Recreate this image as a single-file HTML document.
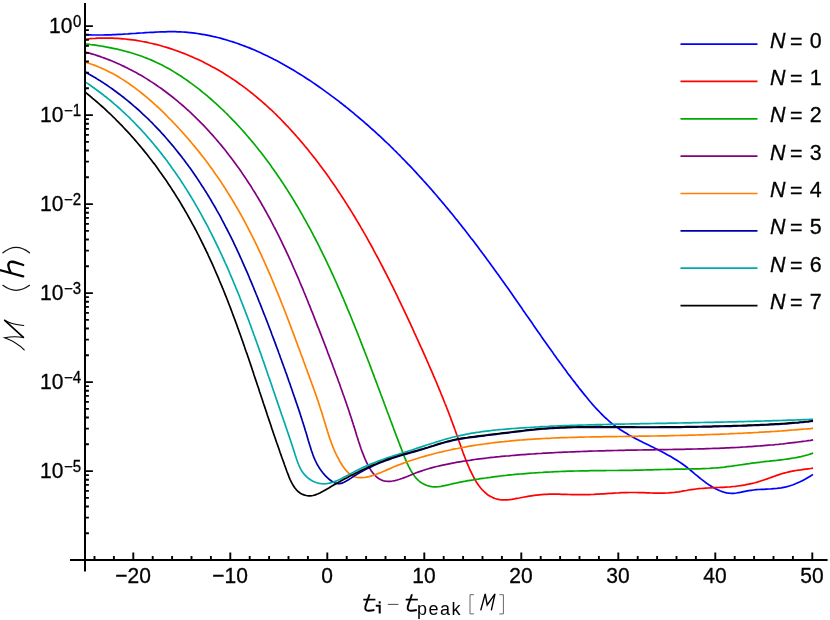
<!DOCTYPE html><html><head><meta charset="utf-8"><style>
html,body{margin:0;padding:0;background:#fff}body{width:830px;height:620px;position:relative;overflow:hidden;font-family:"Liberation Sans",sans-serif;color:#000}
.t{position:absolute;font-size:21px;line-height:24px;height:24px;white-space:nowrap;will-change:transform;-webkit-text-stroke:0.3px #000;transform:scaleY(1.060);transform-origin:50% 50%}
.xl{width:80px;text-align:center;top:564.4px}
.yl{left:39.5px}
.ys{font-size:15px;}
.lg{left:769.6px;font-size:21.4px}
i{font-style:italic}.eq{position:relative;top:1.4px;margin-left:-1.3px;margin-right:1.3px}
</style></head><body>
<svg width="830" height="620" viewBox="0 0 830 620" style="position:absolute;left:0;top:0">
<g fill="none" stroke-width="1.7" stroke-linecap="butt" stroke-linejoin="round">
<path d="M84.6,34.7L85.2,34.7L87.8,34.8L90.3,34.9L92.8,35.0L95.3,35.0L97.9,35.0L100.4,35.0L102.9,35.0L105.5,34.9L108.0,34.9L110.5,34.8L113.0,34.7L115.5,34.6L118.1,34.4L120.6,34.3L123.1,34.2L125.6,34.0L128.1,33.9L130.6,33.7L133.1,33.5L135.6,33.4L138.1,33.2L140.6,33.0L143.1,32.9L145.6,32.7L148.1,32.5L150.6,32.4L153.1,32.3L155.5,32.1L158.0,32.0L160.5,31.9L163.0,31.8L165.4,31.8L167.9,31.7L170.4,31.7L172.8,31.7L175.3,31.7L177.7,31.8L180.2,31.9L182.6,32.0L185.1,32.2L187.5,32.4L189.9,32.6L192.4,32.9L194.8,33.2L197.2,33.5L199.6,33.9L202.0,34.3L204.5,34.7L206.9,35.1L209.3,35.6L211.6,36.1L214.0,36.7L216.4,37.2L218.8,37.8L221.2,38.4L223.5,39.1L225.9,39.8L228.3,40.5L230.6,41.2L233.0,41.9L235.3,42.7L237.7,43.5L240.0,44.4L242.3,45.2L244.6,46.1L246.9,47.0L249.3,47.9L251.6,48.9L253.9,49.8L256.1,50.8L258.4,51.8L260.7,52.8L263.0,53.9L265.2,55.0L267.5,56.1L269.8,57.2L272.0,58.3L274.2,59.5L276.5,60.6L278.7,61.8L280.9,63.0L283.1,64.2L285.3,65.5L287.5,66.7L289.7,68.0L291.9,69.3L294.1,70.6L296.2,71.9L298.4,73.2L300.5,74.5L302.7,75.9L304.8,77.3L307.0,78.7L309.1,80.0L311.2,81.4L313.3,82.9L315.4,84.3L317.5,85.7L319.6,87.2L321.6,88.6L323.7,90.1L325.7,91.6L327.8,93.1L329.8,94.6L331.8,96.1L333.9,97.6L335.9,99.1L337.9,100.6L339.9,102.2L341.9,103.7L343.8,105.3L345.8,106.8L347.8,108.4L349.7,110.0L351.7,111.6L353.6,113.2L355.5,114.8L357.4,116.4L359.3,118.0L361.2,119.6L363.1,121.2L365.0,122.9L366.9,124.5L368.8,126.1L370.6,127.8L372.5,129.5L374.4,131.1L376.2,132.8L378.0,134.5L379.9,136.2L381.7,137.9L383.5,139.6L385.3,141.3L387.1,143.0L388.9,144.7L390.7,146.5L392.4,148.2L394.2,150.0L396.0,151.7L397.7,153.5L399.5,155.2L401.2,157.0L403.0,158.8L404.7,160.5L406.4,162.3L408.1,164.1L409.9,165.9L411.6,167.7L413.3,169.5L415.0,171.3L416.6,173.1L418.3,175.0L420.0,176.8L421.7,178.6L423.3,180.5L425.0,182.3L426.6,184.1L428.3,186.0L429.9,187.9L431.6,189.7L433.2,191.6L434.8,193.5L436.4,195.3L438.0,197.2L439.6,199.1L441.2,201.0L442.8,202.9L444.4,204.8L446.0,206.7L447.6,208.6L449.2,210.5L450.7,212.4L452.3,214.3L453.9,216.3L455.4,218.2L457.0,220.1L458.5,222.1L460.1,224.0L461.6,225.9L463.1,227.9L464.7,229.8L466.2,231.8L467.7,233.7L469.2,235.7L470.7,237.7L472.3,239.6L473.8,241.6L475.3,243.6L476.8,245.5L478.3,247.5L479.7,249.5L481.2,251.5L482.7,253.5L484.2,255.4L485.7,257.4L487.1,259.4L488.6,261.4L490.1,263.4L491.5,265.4L493.0,267.4L494.4,269.4L495.9,271.4L497.3,273.4L498.8,275.5L500.2,277.5L501.6,279.5L503.1,281.5L504.5,283.5L505.9,285.5L507.4,287.6L508.8,289.6L510.2,291.6L511.6,293.6L513.1,295.7L514.5,297.7L515.9,299.7L517.3,301.8L518.7,303.8L520.1,305.8L521.5,307.8L522.9,309.9L524.3,311.9L525.7,314.0L527.1,316.0L528.6,318.0L530.0,320.1L531.4,322.1L532.8,324.1L534.2,326.2L535.6,328.2L537.0,330.2L538.4,332.3L539.9,334.3L541.3,336.4L542.7,338.4L544.1,340.4L545.6,342.5L547.0,344.5L548.4,346.5L549.9,348.6L551.3,350.6L552.8,352.6L554.2,354.7L555.7,356.7L557.1,358.7L558.6,360.7L560.1,362.8L561.6,364.8L563.0,366.8L564.5,368.8L566.0,370.8L567.5,372.9L569.0,374.9L570.6,376.9L572.1,378.9L573.6,380.9L575.2,382.9L576.7,384.9L578.3,386.9L579.8,388.9L581.4,390.9L583.0,392.9L584.6,394.9L586.2,396.8L587.8,398.8L589.4,400.8L591.1,402.7L592.7,404.6L594.4,406.5L596.1,408.4L597.8,410.2L599.6,412.0L601.4,413.8L603.1,415.6L604.9,417.3L606.8,419.0L608.6,420.7L610.5,422.3L612.4,423.9L614.4,425.4L616.4,426.9L618.4,428.3L620.4,429.7L622.5,431.0L624.5,432.3L626.7,433.6L628.8,434.9L630.9,436.1L633.1,437.3L635.3,438.4L637.5,439.6L639.7,440.7L641.9,441.8L644.1,442.9L646.4,444.0L648.6,445.1L650.8,446.2L653.1,447.3L655.3,448.4L657.6,449.5L659.8,450.7L662.0,451.8L664.2,453.0L666.4,454.2L668.6,455.4L670.8,456.6L673.0,457.9L675.1,459.2L677.2,460.5L679.3,461.9L681.4,463.3L683.5,464.8L685.5,466.3L687.5,467.8L689.5,469.4L691.4,471.0L693.4,472.7L695.3,474.3L697.3,475.9L699.2,477.5L701.2,479.1L703.2,480.6L705.2,482.2L707.2,483.6L709.2,485.0L711.3,486.3L713.4,487.6L715.5,488.8L717.7,489.8L719.9,490.8L722.2,491.6L724.4,492.3L726.8,492.8L729.1,493.2L731.5,493.3L733.9,493.3L736.3,493.0L738.8,492.6L741.2,492.2L743.7,491.6L746.2,491.1L748.7,490.7L751.2,490.3L753.7,490.0L756.3,489.7L758.8,489.5L761.3,489.4L763.8,489.3L766.3,489.1L768.8,489.0L771.3,488.9L773.8,488.7L776.3,488.5L778.8,488.2L781.2,487.9L783.7,487.4L786.1,486.9L788.5,486.2L790.8,485.5L793.2,484.7L795.5,483.8L797.8,482.8L800.1,481.8L802.3,480.7L804.6,479.5L806.7,478.3L808.9,477.0L811.0,475.7L813.0,474.4" stroke="#0000ff"/>
<path d="M84.6,39.3L85.3,39.2L87.8,39.0L90.3,38.7L92.8,38.5L95.3,38.4L97.8,38.2L100.3,38.2L102.8,38.1L105.3,38.1L107.8,38.1L110.3,38.1L112.7,38.2L115.2,38.3L117.7,38.4L120.2,38.6L122.7,38.8L125.2,39.0L127.6,39.3L130.1,39.6L132.6,39.9L135.0,40.2L137.5,40.6L139.9,41.0L142.4,41.5L144.8,41.9L147.3,42.4L149.7,43.0L152.1,43.5L154.5,44.1L157.0,44.7L159.4,45.3L161.8,46.0L164.2,46.7L166.6,47.4L168.9,48.1L171.3,48.9L173.7,49.7L176.0,50.5L178.4,51.4L180.7,52.2L183.1,53.1L185.4,54.0L187.7,55.0L190.0,56.0L192.3,56.9L194.6,58.0L196.9,59.0L199.2,60.1L201.4,61.1L203.7,62.2L205.9,63.4L208.1,64.5L210.3,65.7L212.5,66.9L214.7,68.1L216.9,69.3L219.1,70.6L221.2,71.8L223.4,73.1L225.5,74.5L227.6,75.8L229.7,77.1L231.8,78.5L233.9,79.9L236.0,81.3L238.0,82.7L240.0,84.2L242.1,85.6L244.1,87.1L246.1,88.6L248.0,90.1L250.0,91.7L252.0,93.2L253.9,94.8L255.8,96.4L257.7,98.0L259.6,99.6L261.5,101.2L263.4,102.8L265.3,104.5L267.1,106.2L268.9,107.8L270.8,109.5L272.6,111.2L274.4,113.0L276.2,114.7L277.9,116.5L279.7,118.2L281.5,120.0L283.2,121.8L284.9,123.6L286.6,125.4L288.4,127.2L290.0,129.0L291.7,130.9L293.4,132.7L295.1,134.6L296.7,136.5L298.4,138.3L300.0,140.2L301.6,142.1L303.2,144.0L304.8,146.0L306.4,147.9L308.0,149.8L309.5,151.8L311.1,153.7L312.7,155.7L314.2,157.6L315.7,159.6L317.2,161.6L318.7,163.6L320.2,165.6L321.7,167.5L323.2,169.6L324.7,171.6L326.2,173.6L327.6,175.6L329.1,177.6L330.5,179.7L331.9,181.7L333.3,183.8L334.8,185.8L336.2,187.9L337.5,190.0L338.9,192.0L340.3,194.1L341.7,196.2L343.0,198.3L344.4,200.4L345.7,202.5L347.1,204.6L348.4,206.7L349.7,208.8L351.0,210.9L352.4,213.1L353.7,215.2L355.0,217.3L356.2,219.5L357.5,221.6L358.8,223.8L360.1,225.9L361.3,228.1L362.6,230.2L363.8,232.4L365.1,234.6L366.3,236.7L367.5,238.9L368.7,241.1L369.9,243.3L371.2,245.5L372.4,247.7L373.5,249.9L374.7,252.1L375.9,254.3L377.1,256.5L378.3,258.7L379.4,260.9L380.6,263.1L381.8,265.3L382.9,267.5L384.1,269.8L385.2,272.0L386.3,274.2L387.5,276.5L388.6,278.7L389.7,280.9L390.8,283.2L392.0,285.4L393.1,287.6L394.2,289.9L395.3,292.1L396.4,294.4L397.5,296.6L398.5,298.9L399.6,301.1L400.7,303.4L401.8,305.6L402.9,307.9L403.9,310.1L405.0,312.4L406.1,314.7L407.1,316.9L408.2,319.2L409.2,321.4L410.3,323.7L411.3,326.0L412.4,328.2L413.4,330.5L414.4,332.8L415.5,335.0L416.5,337.3L417.6,339.6L418.6,341.8L419.6,344.1L420.6,346.4L421.7,348.6L422.7,350.9L423.7,353.2L424.7,355.4L425.7,357.7L426.7,360.0L427.7,362.2L428.7,364.5L429.7,366.8L430.7,369.1L431.7,371.3L432.7,373.6L433.6,375.9L434.6,378.2L435.6,380.5L436.6,382.8L437.5,385.1L438.5,387.4L439.4,389.7L440.4,392.0L441.3,394.3L442.3,396.6L443.2,398.9L444.1,401.2L445.0,403.5L446.0,405.8L446.9,408.2L447.8,410.5L448.7,412.8L449.6,415.2L450.5,417.5L451.3,419.9L452.2,422.2L453.1,424.6L454.0,426.9L454.8,429.3L455.7,431.7L456.5,434.0L457.4,436.4L458.2,438.8L459.0,441.2L459.9,443.6L460.7,446.0L461.5,448.4L462.4,450.7L463.2,453.1L464.1,455.4L465.0,457.8L465.9,460.1L466.8,462.4L467.8,464.7L468.8,467.0L469.8,469.3L470.8,471.5L471.9,473.7L473.0,475.9L474.1,478.0L475.3,480.2L476.5,482.3L477.9,484.3L479.3,486.3L480.9,488.3L482.6,490.2L484.5,492.0L486.4,493.7L488.4,495.2L490.6,496.5L492.8,497.6L495.0,498.5L497.3,499.2L499.7,499.6L502.1,499.9L504.6,499.9L507.0,499.8L509.5,499.6L511.9,499.3L514.4,498.9L516.9,498.4L519.3,498.0L521.8,497.5L524.3,497.0L526.7,496.6L529.2,496.2L531.7,495.8L534.2,495.4L536.7,495.1L539.1,494.8L541.6,494.6L544.1,494.4L546.6,494.3L549.1,494.2L551.6,494.2L554.0,494.2L556.5,494.2L559.0,494.2L561.5,494.3L564.0,494.3L566.5,494.4L569.0,494.5L571.5,494.6L574.0,494.6L576.5,494.7L579.0,494.7L581.5,494.7L584.0,494.7L586.5,494.6L589.0,494.6L591.5,494.5L594.0,494.4L596.5,494.2L599.0,494.1L601.5,493.9L604.0,493.8L606.5,493.6L609.0,493.4L611.5,493.3L614.0,493.1L616.5,493.0L619.0,492.9L621.5,492.7L624.0,492.6L626.5,492.6L629.0,492.5L631.5,492.5L634.0,492.5L636.5,492.5L639.0,492.6L641.5,492.6L644.0,492.7L646.5,492.8L648.9,492.9L651.4,493.0L653.9,493.1L656.4,493.1L658.9,493.1L661.4,493.1L663.9,493.1L666.4,493.0L668.9,492.9L671.3,492.7L673.8,492.5L676.3,492.1L678.8,491.8L681.3,491.4L683.7,490.9L686.2,490.5L688.7,490.0L691.1,489.6L693.6,489.3L696.1,489.0L698.5,488.7L701.0,488.5L703.5,488.3L705.9,488.1L708.4,488.0L710.9,487.8L713.3,487.7L715.8,487.6L718.2,487.5L720.7,487.4L723.1,487.3L725.6,487.1L728.0,487.0L730.5,486.8L732.9,486.5L735.4,486.3L737.8,486.0L740.3,485.7L742.7,485.3L745.1,484.9L747.6,484.4L750.0,483.9L752.5,483.4L754.9,482.8L757.3,482.1L759.8,481.3L762.2,480.5L764.6,479.7L767.1,478.9L769.5,478.0L771.9,477.1L774.3,476.2L776.8,475.4L779.2,474.6L781.6,473.8L784.0,473.1L786.4,472.5L788.9,471.9L791.3,471.4L793.7,470.9L796.1,470.5L798.5,470.1L800.9,469.8L803.4,469.4L805.8,469.1L808.2,468.8L810.6,468.5L813.0,468.1" stroke="#ff0000"/>
<path d="M84.6,43.7L85.2,43.8L87.8,44.1L90.4,44.5L93.0,44.8L95.6,45.2L98.1,45.6L100.7,46.0L103.2,46.4L105.7,46.9L108.2,47.3L110.7,47.8L113.2,48.3L115.7,48.8L118.1,49.4L120.6,50.0L123.0,50.6L125.4,51.2L127.8,51.9L130.1,52.5L132.5,53.2L134.9,54.0L137.2,54.7L139.5,55.5L141.8,56.3L144.1,57.2L146.4,58.1L148.7,59.0L150.9,59.9L153.2,60.9L155.4,61.9L157.6,62.9L159.8,64.0L162.0,65.1L164.2,66.3L166.4,67.4L168.5,68.6L170.7,69.8L172.8,71.1L174.9,72.4L177.0,73.7L179.1,75.0L181.2,76.3L183.2,77.7L185.3,79.1L187.3,80.5L189.3,82.0L191.3,83.4L193.3,84.9L195.3,86.4L197.3,87.9L199.3,89.4L201.2,91.0L203.1,92.6L205.1,94.1L207.0,95.7L208.9,97.3L210.8,99.0L212.6,100.6L214.5,102.3L216.3,103.9L218.2,105.6L220.0,107.3L221.8,109.0L223.6,110.7L225.4,112.5L227.2,114.2L228.9,116.0L230.7,117.8L232.4,119.6L234.2,121.4L235.9,123.2L237.6,125.0L239.3,126.8L241.0,128.7L242.6,130.5L244.3,132.4L245.9,134.3L247.6,136.2L249.2,138.1L250.8,140.0L252.4,141.9L254.0,143.8L255.6,145.8L257.2,147.7L258.7,149.7L260.3,151.6L261.8,153.6L263.3,155.6L264.8,157.6L266.3,159.6L267.8,161.6L269.3,163.6L270.8,165.6L272.2,167.7L273.7,169.7L275.1,171.8L276.5,173.8L278.0,175.9L279.4,177.9L280.8,180.0L282.1,182.1L283.5,184.1L284.9,186.2L286.2,188.3L287.6,190.4L288.9,192.5L290.2,194.6L291.6,196.8L292.9,198.9L294.2,201.0L295.4,203.2L296.7,205.3L298.0,207.4L299.3,209.6L300.5,211.8L301.7,213.9L303.0,216.1L304.2,218.3L305.4,220.4L306.6,222.6L307.8,224.8L309.0,227.0L310.2,229.2L311.4,231.4L312.6,233.6L313.7,235.8L314.9,238.0L316.0,240.2L317.1,242.4L318.3,244.7L319.4,246.9L320.5,249.1L321.6,251.4L322.7,253.6L323.8,255.9L324.9,258.1L326.0,260.3L327.1,262.6L328.1,264.9L329.2,267.1L330.3,269.4L331.3,271.7L332.3,273.9L333.4,276.2L334.4,278.5L335.4,280.7L336.5,283.0L337.5,285.3L338.5,287.6L339.5,289.9L340.5,292.2L341.5,294.5L342.5,296.8L343.5,299.0L344.4,301.3L345.4,303.6L346.4,305.9L347.3,308.3L348.3,310.6L349.3,312.9L350.2,315.2L351.2,317.5L352.1,319.8L353.0,322.1L354.0,324.4L354.9,326.7L355.8,329.0L356.8,331.4L357.7,333.7L358.6,336.0L359.5,338.3L360.4,340.6L361.3,342.9L362.2,345.3L363.1,347.6L364.0,349.9L364.9,352.2L365.8,354.5L366.7,356.8L367.6,359.2L368.5,361.5L369.4,363.8L370.3,366.1L371.1,368.4L372.0,370.8L372.9,373.1L373.8,375.4L374.6,377.7L375.5,380.1L376.4,382.4L377.3,384.7L378.1,387.0L379.0,389.4L379.9,391.7L380.7,394.0L381.6,396.3L382.5,398.7L383.4,401.0L384.2,403.3L385.1,405.7L386.0,408.0L386.8,410.3L387.7,412.7L388.6,415.0L389.5,417.4L390.3,419.7L391.2,422.0L392.1,424.4L393.0,426.7L393.8,429.1L394.7,431.4L395.6,433.8L396.5,436.1L397.4,438.5L398.3,440.9L399.2,443.2L400.1,445.6L401.0,447.9L401.9,450.3L402.8,452.7L403.7,455.0L404.6,457.4L405.6,459.7L406.6,462.1L407.7,464.4L408.8,466.7L410.0,469.0L411.2,471.2L412.6,473.3L414.0,475.4L415.5,477.4L417.1,479.2L418.9,480.8L420.7,482.3L422.7,483.6L424.8,484.6L427.0,485.5L429.2,486.1L431.5,486.6L433.9,486.8L436.2,486.8L438.6,486.7L441.0,486.4L443.4,485.9L445.8,485.4L448.2,484.9L450.6,484.3L453.1,483.7L455.6,483.2L458.0,482.6L460.5,482.1L463.0,481.6L465.5,481.2L468.0,480.7L470.5,480.3L473.0,479.9L475.5,479.4L478.0,479.1L480.5,478.7L483.0,478.3L485.5,478.0L488.0,477.6L490.5,477.3L493.0,476.9L495.5,476.6L498.0,476.3L500.5,476.0L503.0,475.7L505.5,475.5L508.0,475.2L510.5,474.9L513.0,474.7L515.5,474.4L518.0,474.2L520.5,474.0L523.0,473.8L525.4,473.6L527.9,473.4L530.4,473.2L532.9,473.0L535.4,472.8L537.9,472.7L540.4,472.5L542.9,472.4L545.4,472.2L547.8,472.1L550.3,472.0L552.8,471.8L555.3,471.7L557.8,471.6L560.3,471.5L562.8,471.4L565.2,471.3L567.7,471.2L570.2,471.2L572.7,471.1L575.2,471.0L577.7,471.0L580.2,470.9L582.6,470.9L585.1,470.8L587.6,470.8L590.1,470.7L592.6,470.7L595.1,470.7L597.5,470.6L600.0,470.6L602.5,470.6L605.0,470.6L607.5,470.5L610.0,470.5L612.4,470.5L614.9,470.5L617.4,470.5L619.9,470.4L622.4,470.4L624.9,470.4L627.3,470.3L629.8,470.3L632.3,470.3L634.8,470.2L637.3,470.2L639.8,470.1L642.3,470.1L644.7,470.0L647.2,469.9L649.7,469.9L652.2,469.8L654.7,469.7L657.2,469.7L659.7,469.6L662.1,469.5L664.6,469.5L667.1,469.4L669.6,469.4L672.1,469.3L674.6,469.2L677.1,469.2L679.6,469.1L682.1,469.1L684.6,469.1L687.1,469.0L689.6,469.0L692.0,468.9L694.5,468.9L697.0,468.8L699.5,468.8L702.0,468.7L704.5,468.6L707.0,468.5L709.5,468.4L712.0,468.2L714.5,468.0L717.0,467.8L719.5,467.6L722.0,467.3L724.5,467.1L727.0,466.7L729.5,466.4L731.9,466.1L734.4,465.7L736.9,465.4L739.4,465.0L741.9,464.7L744.4,464.3L746.9,463.9L749.3,463.6L751.8,463.2L754.3,462.9L756.8,462.6L759.3,462.3L761.7,462.0L764.2,461.7L766.7,461.4L769.1,461.2L771.6,460.9L774.1,460.6L776.5,460.4L779.0,460.1L781.4,459.8L783.9,459.5L786.3,459.2L788.8,458.8L791.2,458.4L793.7,458.0L796.1,457.6L798.6,457.1L801.0,456.6L803.4,456.0L805.8,455.4L808.3,454.7L810.7,453.9L813.1,453.1" stroke="#00aa00"/>
<path d="M84.6,51.8L85.2,52.0L87.7,52.7L90.1,53.4L92.5,54.1L94.9,54.8L97.3,55.6L99.7,56.4L102.1,57.3L104.4,58.1L106.8,59.0L109.1,59.9L111.4,60.8L113.7,61.8L116.0,62.8L118.3,63.8L120.6,64.8L122.8,65.9L125.1,66.9L127.3,68.0L129.5,69.2L131.7,70.3L133.9,71.5L136.1,72.6L138.3,73.9L140.4,75.1L142.6,76.3L144.7,77.6L146.8,78.9L148.9,80.2L151.0,81.6L153.1,82.9L155.1,84.3L157.2,85.7L159.2,87.1L161.3,88.5L163.3,90.0L165.3,91.5L167.3,93.0L169.2,94.5L171.2,96.0L173.1,97.5L175.1,99.1L177.0,100.7L178.9,102.3L180.8,103.9L182.7,105.5L184.6,107.1L186.4,108.8L188.3,110.5L190.1,112.2L191.9,113.9L193.7,115.6L195.5,117.3L197.3,119.1L199.1,120.8L200.8,122.6L202.6,124.4L204.3,126.2L206.0,128.0L207.7,129.9L209.4,131.7L211.1,133.6L212.8,135.4L214.4,137.3L216.1,139.2L217.7,141.1L219.3,143.0L220.9,144.9L222.5,146.9L224.1,148.8L225.7,150.8L227.2,152.7L228.7,154.7L230.3,156.7L231.8,158.7L233.3,160.7L234.8,162.7L236.2,164.7L237.7,166.8L239.2,168.8L240.6,170.8L242.0,172.9L243.4,175.0L244.8,177.0L246.2,179.1L247.6,181.2L248.9,183.3L250.3,185.3L251.6,187.4L252.9,189.6L254.3,191.7L255.6,193.8L256.8,195.9L258.1,198.0L259.4,200.2L260.7,202.3L261.9,204.5L263.1,206.6L264.4,208.8L265.6,211.0L266.8,213.1L268.0,215.3L269.2,217.5L270.4,219.7L271.5,221.9L272.7,224.1L273.8,226.3L275.0,228.5L276.1,230.7L277.2,232.9L278.4,235.2L279.5,237.4L280.6,239.6L281.7,241.9L282.7,244.1L283.8,246.4L284.9,248.6L286.0,250.9L287.0,253.1L288.1,255.4L289.1,257.6L290.1,259.9L291.2,262.2L292.2,264.5L293.2,266.8L294.2,269.0L295.2,271.3L296.2,273.6L297.2,275.9L298.2,278.2L299.2,280.5L300.1,282.8L301.1,285.1L302.1,287.4L303.1,289.7L304.0,292.0L305.0,294.3L305.9,296.7L306.9,299.0L307.8,301.3L308.7,303.6L309.7,305.9L310.6,308.3L311.5,310.6L312.5,312.9L313.4,315.2L314.3,317.6L315.2,319.9L316.1,322.2L317.0,324.6L317.9,326.9L318.9,329.2L319.8,331.6L320.7,333.9L321.6,336.2L322.5,338.6L323.4,340.9L324.3,343.3L325.2,345.6L326.1,347.9L327.0,350.3L327.8,352.6L328.7,354.9L329.6,357.3L330.5,359.6L331.4,362.0L332.3,364.3L333.1,366.6L334.0,369.0L334.9,371.3L335.7,373.7L336.6,376.0L337.5,378.3L338.3,380.7L339.2,383.0L340.0,385.3L340.8,387.7L341.7,390.0L342.5,392.4L343.3,394.7L344.2,397.0L345.0,399.4L345.8,401.7L346.6,404.0L347.4,406.4L348.2,408.7L349.0,411.1L349.7,413.4L350.5,415.7L351.3,418.1L352.0,420.4L352.8,422.7L353.5,425.1L354.3,427.4L355.0,429.7L355.7,432.1L356.4,434.4L357.1,436.7L357.9,439.1L358.6,441.4L359.4,443.8L360.2,446.2L361.0,448.6L361.9,451.0L362.8,453.4L363.8,455.9L364.8,458.4L365.9,460.9L367.1,463.4L368.3,465.8L369.6,468.1L371.0,470.4L372.5,472.5L374.1,474.4L375.8,476.2L377.6,477.8L379.5,479.1L381.5,480.1L383.6,480.8L385.7,481.2L388.0,481.3L390.2,481.3L392.5,481.0L394.9,480.6L397.2,480.0L399.6,479.3L401.9,478.5L404.3,477.6L406.7,476.7L409.1,475.7L411.5,474.7L413.9,473.7L416.3,472.8L418.7,471.9L421.1,471.1L423.5,470.3L425.9,469.5L428.3,468.8L430.7,468.1L433.2,467.4L435.6,466.8L438.0,466.2L440.5,465.6L442.9,465.1L445.3,464.6L447.8,464.1L450.2,463.6L452.6,463.1L455.1,462.7L457.5,462.2L460.0,461.8L462.4,461.4L464.9,461.0L467.3,460.6L469.8,460.3L472.3,459.9L474.7,459.5L477.2,459.2L479.6,458.9L482.1,458.6L484.6,458.3L487.0,458.0L489.5,457.7L492.0,457.4L494.5,457.2L496.9,456.9L499.4,456.7L501.9,456.4L504.4,456.2L506.8,456.0L509.3,455.8L511.8,455.5L514.3,455.3L516.8,455.1L519.2,454.9L521.7,454.7L524.2,454.6L526.7,454.4L529.2,454.2L531.7,454.0L534.2,453.9L536.6,453.7L539.1,453.5L541.6,453.4L544.1,453.2L546.6,453.1L549.1,452.9L551.6,452.8L554.1,452.7L556.6,452.5L559.1,452.4L561.5,452.3L564.0,452.2L566.5,452.1L569.0,452.0L571.5,451.9L574.0,451.8L576.5,451.7L579.0,451.6L581.5,451.5L584.0,451.4L586.5,451.3L589.0,451.2L591.5,451.1L594.0,451.0L596.5,451.0L599.0,450.9L601.5,450.8L604.0,450.8L606.5,450.7L609.0,450.6L611.5,450.6L614.0,450.5L616.5,450.5L619.0,450.4L621.5,450.3L624.0,450.3L626.5,450.2L629.0,450.2L631.4,450.1L633.9,450.1L636.4,450.1L638.9,450.0L641.4,450.0L643.9,449.9L646.4,449.9L648.9,449.9L651.4,449.8L653.9,449.8L656.4,449.7L658.9,449.7L661.4,449.7L663.9,449.6L666.4,449.6L668.9,449.5L671.4,449.5L673.9,449.4L676.4,449.4L678.9,449.4L681.4,449.3L683.9,449.3L686.3,449.2L688.8,449.1L691.3,449.1L693.8,449.0L696.3,449.0L698.8,448.9L701.3,448.8L703.8,448.8L706.3,448.7L708.8,448.6L711.3,448.5L713.8,448.4L716.2,448.4L718.7,448.3L721.2,448.2L723.7,448.1L726.2,447.9L728.7,447.8L731.2,447.7L733.7,447.6L736.2,447.5L738.6,447.3L741.1,447.2L743.6,447.0L746.1,446.9L748.6,446.7L751.1,446.6L753.6,446.4L756.1,446.2L758.5,446.0L761.0,445.8L763.5,445.6L766.0,445.4L768.5,445.2L771.0,445.0L773.4,444.8L775.9,444.5L778.4,444.3L780.9,444.0L783.4,443.8L785.8,443.5L788.3,443.2L790.8,442.9L793.3,442.6L795.8,442.3L798.2,442.0L800.7,441.7L803.2,441.3L805.7,441.0L808.2,440.6L810.6,440.3L813.1,439.9" stroke="#800080"/>
<path d="M84.6,61.9L85.3,62.1L87.7,62.9L90.1,63.7L92.4,64.5L94.8,65.4L97.1,66.3L99.3,67.2L101.6,68.2L103.9,69.2L106.1,70.3L108.3,71.4L110.5,72.5L112.7,73.6L114.8,74.8L117.0,76.1L119.1,77.3L121.2,78.6L123.3,79.9L125.4,81.3L127.5,82.6L129.5,84.0L131.5,85.5L133.6,86.9L135.6,88.4L137.5,89.9L139.5,91.4L141.5,93.0L143.4,94.5L145.3,96.1L147.2,97.7L149.1,99.3L151.0,101.0L152.9,102.6L154.8,104.3L156.6,106.0L158.5,107.7L160.3,109.4L162.1,111.2L163.9,112.9L165.7,114.7L167.4,116.5L169.2,118.3L171.0,120.0L172.7,121.8L174.4,123.7L176.2,125.5L177.9,127.3L179.6,129.2L181.2,131.0L182.9,132.9L184.6,134.7L186.2,136.6L187.9,138.5L189.5,140.4L191.1,142.3L192.7,144.2L194.3,146.1L195.9,148.1L197.5,150.0L199.0,151.9L200.6,153.9L202.1,155.9L203.7,157.8L205.2,159.8L206.7,161.8L208.2,163.8L209.6,165.8L211.1,167.8L212.6,169.8L214.0,171.9L215.4,173.9L216.9,175.9L218.3,178.0L219.7,180.1L221.1,182.1L222.4,184.2L223.8,186.3L225.2,188.4L226.5,190.5L227.8,192.6L229.1,194.7L230.4,196.8L231.7,198.9L233.0,201.0L234.3,203.2L235.5,205.3L236.8,207.5L238.0,209.6L239.3,211.8L240.5,214.0L241.7,216.1L242.9,218.3L244.1,220.5L245.2,222.7L246.4,224.9L247.6,227.1L248.7,229.3L249.8,231.5L251.0,233.7L252.1,236.0L253.2,238.2L254.3,240.4L255.4,242.7L256.5,244.9L257.6,247.2L258.6,249.4L259.7,251.7L260.7,253.9L261.8,256.2L262.8,258.5L263.8,260.7L264.9,263.0L265.9,265.3L266.9,267.6L267.9,269.9L268.9,272.1L269.9,274.4L270.9,276.7L271.8,279.0L272.8,281.3L273.8,283.6L274.7,286.0L275.7,288.3L276.6,290.6L277.6,292.9L278.5,295.2L279.5,297.5L280.4,299.9L281.3,302.2L282.2,304.5L283.2,306.8L284.1,309.2L285.0,311.5L285.9,313.8L286.8,316.2L287.7,318.5L288.6,320.9L289.5,323.2L290.4,325.5L291.2,327.9L292.1,330.2L293.0,332.6L293.9,334.9L294.8,337.2L295.6,339.6L296.5,341.9L297.4,344.3L298.2,346.6L299.1,349.0L300.0,351.3L300.8,353.7L301.7,356.0L302.6,358.3L303.4,360.7L304.3,363.0L305.2,365.4L306.0,367.7L306.9,370.0L307.7,372.4L308.6,374.7L309.5,377.1L310.3,379.4L311.2,381.7L312.0,384.1L312.9,386.4L313.7,388.7L314.5,391.1L315.4,393.4L316.2,395.8L317.0,398.1L317.8,400.5L318.6,402.8L319.4,405.2L320.1,407.5L320.9,409.9L321.7,412.2L322.4,414.6L323.1,416.9L323.8,419.3L324.6,421.7L325.3,424.0L326.0,426.4L326.7,428.8L327.4,431.1L328.2,433.5L328.9,435.9L329.7,438.2L330.6,440.6L331.4,442.9L332.3,445.3L333.2,447.6L334.2,450.0L335.2,452.3L336.3,454.6L337.5,456.9L338.7,459.2L339.9,461.5L341.3,463.8L342.7,466.0L344.2,468.1L345.8,470.1L347.4,471.9L349.2,473.6L351.0,475.0L353.0,476.1L355.1,477.0L357.2,477.5L359.5,477.7L361.8,477.7L364.2,477.5L366.6,477.1L369.0,476.6L371.4,475.9L373.8,475.2L376.2,474.3L378.6,473.4L381.0,472.5L383.3,471.5L385.7,470.4L388.1,469.4L390.5,468.4L392.8,467.3L395.2,466.3L397.5,465.4L399.9,464.5L402.3,463.6L404.6,462.7L407.0,461.9L409.4,461.0L411.7,460.2L414.1,459.5L416.5,458.7L418.8,458.0L421.2,457.3L423.6,456.6L426.0,455.9L428.4,455.2L430.8,454.6L433.2,454.0L435.6,453.3L438.0,452.7L440.4,452.2L442.8,451.6L445.2,451.0L447.6,450.5L450.0,450.0L452.5,449.4L454.9,448.9L457.3,448.5L459.8,448.0L462.2,447.5L464.6,447.1L467.1,446.6L469.5,446.2L471.9,445.8L474.4,445.4L476.8,445.0L479.3,444.7L481.8,444.3L484.2,444.0L486.7,443.6L489.1,443.3L491.6,443.0L494.1,442.7L496.5,442.4L499.0,442.1L501.5,441.8L503.9,441.6L506.4,441.3L508.9,441.1L511.4,440.8L513.9,440.6L516.3,440.4L518.8,440.2L521.3,440.0L523.8,439.8L526.3,439.6L528.8,439.4L531.3,439.3L533.8,439.1L536.3,438.9L538.8,438.8L541.2,438.6L543.7,438.5L546.2,438.4L548.7,438.3L551.2,438.2L553.7,438.0L556.2,437.9L558.7,437.8L561.3,437.7L563.8,437.7L566.3,437.6L568.8,437.5L571.3,437.4L573.8,437.3L576.3,437.3L578.8,437.2L581.3,437.1L583.8,437.1L586.3,437.0L588.8,437.0L591.3,436.9L593.8,436.9L596.3,436.8L598.8,436.8L601.3,436.8L603.9,436.7L606.4,436.7L608.9,436.7L611.4,436.6L613.9,436.6L616.4,436.6L618.9,436.5L621.4,436.5L623.9,436.5L626.4,436.4L628.9,436.4L631.4,436.4L633.9,436.3L636.4,436.3L638.9,436.2L641.4,436.2L643.9,436.2L646.4,436.1L648.9,436.1L651.4,436.0L653.8,436.0L656.3,436.0L658.8,435.9L661.3,435.9L663.8,435.8L666.3,435.8L668.8,435.7L671.3,435.7L673.8,435.6L676.2,435.5L678.7,435.5L681.2,435.4L683.7,435.4L686.2,435.3L688.7,435.2L691.2,435.2L693.6,435.1L696.1,435.0L698.6,434.9L701.1,434.9L703.6,434.8L706.1,434.7L708.5,434.6L711.0,434.5L713.5,434.4L716.0,434.4L718.5,434.3L721.0,434.2L723.4,434.1L725.9,434.0L728.4,433.9L730.9,433.7L733.4,433.6L735.9,433.5L738.3,433.4L740.8,433.3L743.3,433.2L745.8,433.0L748.3,432.9L750.8,432.8L753.3,432.7L755.7,432.5L758.2,432.4L760.7,432.2L763.2,432.1L765.7,431.9L768.2,431.8L770.7,431.6L773.2,431.5L775.7,431.3L778.2,431.1L780.6,431.0L783.1,430.8L785.6,430.6L788.1,430.4L790.6,430.2L793.1,430.0L795.6,429.8L798.1,429.6L800.6,429.4L803.1,429.2L805.6,429.0L808.1,428.8L810.6,428.6L813.1,428.4" stroke="#ff8000"/>
<path d="M84.6,71.5L86.5,72.7L88.7,73.9L90.9,75.2L93.1,76.5L95.3,77.8L97.4,79.1L99.6,80.4L101.7,81.8L103.8,83.1L105.9,84.5L107.9,85.9L110.0,87.4L112.1,88.8L114.1,90.3L116.1,91.7L118.1,93.2L120.1,94.7L122.1,96.3L124.1,97.8L126.0,99.4L127.9,100.9L129.9,102.5L131.8,104.1L133.7,105.8L135.6,107.4L137.4,109.0L139.3,110.7L141.1,112.4L142.9,114.1L144.8,115.8L146.6,117.5L148.4,119.2L150.1,121.0L151.9,122.7L153.6,124.5L155.4,126.3L157.1,128.1L158.8,129.9L160.5,131.7L162.2,133.6L163.9,135.4L165.5,137.3L167.2,139.2L168.8,141.1L170.4,143.0L172.0,144.9L173.6,146.8L175.2,148.7L176.8,150.7L178.3,152.6L179.9,154.6L181.4,156.5L182.9,158.5L184.5,160.5L185.9,162.5L187.4,164.5L188.9,166.6L190.4,168.6L191.8,170.6L193.3,172.7L194.7,174.7L196.1,176.8L197.5,178.9L198.9,181.0L200.3,183.1L201.6,185.2L203.0,187.3L204.3,189.4L205.7,191.5L207.0,193.6L208.3,195.8L209.6,197.9L210.9,200.0L212.1,202.2L213.4,204.4L214.7,206.5L215.9,208.7L217.1,210.9L218.4,213.1L219.6,215.2L220.8,217.4L221.9,219.6L223.1,221.8L224.3,224.1L225.4,226.3L226.6,228.5L227.7,230.7L228.8,232.9L230.0,235.2L231.1,237.4L232.2,239.6L233.3,241.9L234.3,244.1L235.4,246.4L236.5,248.7L237.5,250.9L238.6,253.2L239.6,255.4L240.6,257.7L241.7,260.0L242.7,262.3L243.7,264.6L244.7,266.8L245.7,269.1L246.7,271.4L247.7,273.7L248.7,276.0L249.6,278.3L250.6,280.6L251.6,282.9L252.5,285.2L253.5,287.5L254.4,289.9L255.4,292.2L256.3,294.5L257.3,296.8L258.2,299.1L259.1,301.5L260.1,303.8L261.0,306.1L261.9,308.5L262.8,310.8L263.7,313.1L264.7,315.5L265.6,317.8L266.5,320.1L267.4,322.5L268.3,324.8L269.2,327.2L270.1,329.5L271.0,331.8L271.8,334.2L272.7,336.5L273.6,338.9L274.5,341.2L275.4,343.6L276.2,345.9L277.1,348.3L278.0,350.6L278.8,353.0L279.7,355.3L280.5,357.7L281.4,360.0L282.2,362.4L283.1,364.7L283.9,367.1L284.8,369.4L285.6,371.8L286.5,374.1L287.3,376.5L288.1,378.8L288.9,381.2L289.8,383.5L290.6,385.9L291.4,388.2L292.2,390.5L293.0,392.9L293.8,395.2L294.6,397.6L295.4,399.9L296.2,402.2L297.0,404.6L297.8,406.9L298.6,409.3L299.4,411.6L300.2,414.0L300.9,416.4L301.7,418.7L302.4,421.1L303.2,423.5L304.0,425.9L304.7,428.3L305.4,430.7L306.2,433.1L306.9,435.5L307.6,438.0L308.3,440.4L309.1,442.9L309.8,445.3L310.6,447.8L311.3,450.2L312.2,452.6L313.0,455.0L313.9,457.4L314.9,459.7L316.0,462.0L317.1,464.2L318.4,466.4L319.7,468.5L321.1,470.5L322.6,472.5L324.2,474.4L325.8,476.2L327.6,477.9L329.4,479.5L331.4,481.0L333.4,482.3L335.5,483.2L337.6,483.6L339.8,483.6L341.9,483.1L344.1,482.3L346.3,481.1L348.5,479.8L350.7,478.4L352.9,476.9L355.1,475.4L357.4,474.0L359.6,472.7L361.8,471.5L364.1,470.2L366.4,469.1L368.7,467.9L371.0,466.9L373.3,465.8L375.6,464.8L377.9,463.8L380.2,462.8L382.5,461.9L384.9,461.0L387.2,460.2L389.6,459.4L391.9,458.5L394.3,457.8L396.6,457.0L399.0,456.3L401.4,455.5L403.8,454.8L406.2,454.1L408.6,453.4L411.0,452.7L413.4,452.1L415.8,451.4L418.2,450.7L420.6,449.9L423.0,449.2L425.4,448.5L427.8,447.7L430.2,447.0L432.7,446.2L435.1,445.5L437.5,444.7L439.9,444.0L442.4,443.2L444.8,442.5L447.2,441.9L449.7,441.3L452.1,440.7L454.5,440.1L457.0,439.6L459.4,439.2L461.9,438.8L464.3,438.4L466.7,438.0L469.2,437.7L471.6,437.4L474.1,437.1L476.5,436.8L479.0,436.4L481.4,436.1L483.9,435.8L486.4,435.5L488.8,435.2L491.3,434.9L493.7,434.6L496.2,434.3L498.7,434.0L501.1,433.7L503.6,433.4L506.1,433.1L508.5,432.8L511.0,432.5L513.5,432.2L516.0,431.9L518.4,431.6L520.9,431.3L523.4,431.0L525.9,430.7L528.3,430.4L530.8,430.1L533.3,429.9L535.8,429.7L538.3,429.4L540.8,429.2L543.2,429.0L545.7,428.8L548.2,428.7L550.7,428.5L553.2,428.3L555.7,428.2L558.2,428.1L560.7,428.0L563.2,427.9L565.7,427.8L568.2,427.7L570.7,427.6L573.2,427.5L575.6,427.5L578.1,427.4L580.6,427.4L583.1,427.4L585.6,427.3L588.1,427.3L590.6,427.3L593.1,427.3L595.6,427.3L598.2,427.3L600.7,427.3L603.2,427.3L605.7,427.3L608.2,427.3L610.7,427.3L613.2,427.3L615.7,427.3L618.2,427.3L620.7,427.4L623.2,427.4L625.7,427.4L628.2,427.4L630.7,427.4L633.2,427.4L635.7,427.4L638.2,427.5L640.8,427.5L643.3,427.5L645.8,427.5L648.3,427.5L650.8,427.5L653.3,427.5L655.8,427.5L658.3,427.4L660.8,427.4L663.3,427.4L665.8,427.4L668.4,427.4L670.9,427.4L673.4,427.4L675.9,427.3L678.4,427.3L680.9,427.3L683.4,427.2L685.9,427.2L688.4,427.2L690.9,427.1L693.4,427.1L695.9,427.1L698.4,427.0L701.0,427.0L703.5,426.9L706.0,426.9L708.5,426.8L711.0,426.8L713.5,426.7L716.0,426.7L718.5,426.6L721.0,426.5L723.5,426.5L726.0,426.4L728.5,426.3L731.0,426.3L733.5,426.2L736.0,426.1L738.5,426.0L741.0,426.0L743.5,425.9L746.0,425.8L748.5,425.7L751.0,425.6L753.5,425.5L756.0,425.4L758.4,425.3L760.9,425.2L763.4,425.1L765.9,425.0L768.4,424.8L770.9,424.7L773.4,424.6L775.9,424.4L778.4,424.3L780.8,424.1L783.3,423.9L785.8,423.8L788.3,423.6L790.8,423.4L793.2,423.2L795.7,423.0L798.2,422.8L800.7,422.5L803.1,422.3L805.6,422.0L808.1,421.8L810.6,421.5L813.0,421.2" stroke="#0000aa"/>
<path d="M84.6,81.4L86.7,82.9L88.8,84.3L90.9,85.7L93.0,87.2L95.0,88.7L97.1,90.2L99.1,91.7L101.1,93.2L103.1,94.7L105.0,96.3L107.0,97.8L108.9,99.4L110.9,101.0L112.8,102.6L114.7,104.3L116.6,105.9L118.4,107.5L120.3,109.2L122.1,110.9L124.0,112.6L125.8,114.3L127.6,116.0L129.4,117.7L131.1,119.5L132.9,121.2L134.7,123.0L136.4,124.8L138.1,126.6L139.8,128.4L141.5,130.2L143.2,132.0L144.9,133.9L146.5,135.7L148.1,137.6L149.8,139.5L151.4,141.4L153.0,143.3L154.6,145.2L156.2,147.1L157.7,149.0L159.3,151.0L160.8,152.9L162.4,154.9L163.9,156.9L165.4,158.8L166.9,160.8L168.3,162.8L169.8,164.8L171.3,166.9L172.7,168.9L174.2,170.9L175.6,173.0L177.0,175.0L178.4,177.1L179.8,179.1L181.2,181.2L182.5,183.3L183.9,185.4L185.2,187.5L186.6,189.6L187.9,191.7L189.2,193.8L190.5,196.0L191.8,198.1L193.1,200.2L194.3,202.4L195.6,204.6L196.8,206.7L198.1,208.9L199.3,211.1L200.5,213.2L201.7,215.4L202.9,217.6L204.1,219.8L205.3,222.0L206.5,224.2L207.7,226.4L208.8,228.6L209.9,230.9L211.1,233.1L212.2,235.3L213.3,237.5L214.4,239.8L215.5,242.0L216.6,244.3L217.7,246.5L218.8,248.8L219.8,251.0L220.9,253.3L221.9,255.5L223.0,257.8L224.0,260.1L225.0,262.4L226.1,264.6L227.1,266.9L228.1,269.2L229.1,271.5L230.0,273.8L231.0,276.1L232.0,278.4L233.0,280.7L233.9,283.0L234.9,285.3L235.8,287.6L236.8,289.9L237.7,292.2L238.7,294.5L239.6,296.8L240.5,299.2L241.4,301.5L242.3,303.8L243.2,306.1L244.1,308.5L245.0,310.8L245.9,313.1L246.8,315.4L247.7,317.8L248.6,320.1L249.4,322.5L250.3,324.8L251.2,327.1L252.0,329.5L252.9,331.8L253.7,334.2L254.6,336.5L255.4,338.9L256.3,341.2L257.1,343.6L258.0,345.9L258.8,348.3L259.6,350.6L260.5,353.0L261.3,355.3L262.1,357.7L262.9,360.0L263.8,362.4L264.6,364.8L265.4,367.1L266.2,369.5L267.0,371.8L267.8,374.2L268.6,376.5L269.5,378.9L270.3,381.2L271.1,383.6L271.9,386.0L272.7,388.3L273.5,390.7L274.3,393.0L275.1,395.4L275.9,397.7L276.7,400.1L277.5,402.4L278.3,404.8L279.1,407.1L279.9,409.5L280.7,411.8L281.5,414.2L282.4,416.5L283.2,418.9L284.0,421.2L284.8,423.6L285.6,426.0L286.4,428.3L287.2,430.7L288.0,433.1L288.8,435.4L289.6,437.8L290.4,440.2L291.2,442.6L292.0,445.0L292.8,447.4L293.6,449.8L294.4,452.2L295.1,454.7L295.9,457.1L296.7,459.5L297.6,462.0L298.5,464.3L299.5,466.6L300.6,468.9L301.8,471.0L303.2,473.0L304.8,474.9L306.5,476.7L308.4,478.3L310.4,479.8L312.5,481.0L314.7,482.0L316.9,482.8L319.2,483.4L321.5,483.7L323.7,483.8L326.0,483.7L328.3,483.4L330.6,482.9L332.9,482.2L335.1,481.4L337.4,480.5L339.7,479.4L342.0,478.3L344.3,477.1L346.6,475.9L348.9,474.7L351.2,473.4L353.5,472.2L355.8,471.0L358.1,469.8L360.4,468.7L362.7,467.6L365.0,466.6L367.3,465.6L369.6,464.6L371.9,463.6L374.2,462.7L376.6,461.8L378.9,460.9L381.2,460.0L383.5,459.2L385.9,458.4L388.2,457.6L390.6,456.8L392.9,456.0L395.2,455.2L397.6,454.5L399.9,453.7L402.3,453.0L404.7,452.2L407.0,451.5L409.4,450.7L411.7,450.0L414.1,449.2L416.5,448.4L418.9,447.6L421.3,446.9L423.6,446.1L426.0,445.3L428.4,444.5L430.8,443.7L433.2,443.0L435.6,442.2L438.0,441.5L440.4,440.7L442.8,440.0L445.2,439.3L447.7,438.6L450.1,438.0L452.5,437.3L454.9,436.7L457.4,436.1L459.8,435.6L462.2,435.1L464.7,434.6L467.1,434.1L469.5,433.6L472.0,433.2L474.4,432.8L476.9,432.4L479.3,432.1L481.8,431.7L484.2,431.4L486.7,431.1L489.1,430.8L491.6,430.5L494.1,430.2L496.5,430.0L499.0,429.7L501.5,429.5L503.9,429.3L506.4,429.1L508.9,428.9L511.3,428.7L513.8,428.5L516.3,428.3L518.8,428.1L521.3,427.9L523.7,427.8L526.2,427.6L528.7,427.5L531.2,427.3L533.7,427.2L536.2,427.0L538.7,426.9L541.2,426.7L543.6,426.6L546.1,426.5L548.6,426.4L551.1,426.2L553.6,426.1L556.1,426.0L558.6,425.9L561.1,425.8L563.6,425.7L566.1,425.6L568.6,425.5L571.1,425.4L573.6,425.4L576.1,425.3L578.6,425.2L581.1,425.1L583.6,425.0L586.1,425.0L588.6,424.9L591.1,424.8L593.6,424.8L596.1,424.7L598.6,424.6L601.1,424.6L603.6,424.5L606.2,424.5L608.7,424.4L611.2,424.3L613.7,424.3L616.2,424.2L618.7,424.2L621.2,424.1L623.7,424.1L626.2,424.0L628.7,424.0L631.2,423.9L633.7,423.9L636.2,423.8L638.7,423.8L641.2,423.7L643.7,423.7L646.1,423.6L648.6,423.6L651.1,423.5L653.6,423.5L656.1,423.4L658.6,423.4L661.1,423.3L663.6,423.3L666.1,423.3L668.6,423.2L671.1,423.2L673.6,423.1L676.1,423.1L678.5,423.0L681.0,423.0L683.5,422.9L686.0,422.9L688.5,422.8L691.0,422.8L693.5,422.7L696.0,422.7L698.5,422.6L700.9,422.5L703.4,422.5L705.9,422.4L708.4,422.4L710.9,422.3L713.4,422.3L715.9,422.2L718.4,422.2L720.8,422.1L723.3,422.1L725.8,422.0L728.3,421.9L730.8,421.9L733.3,421.8L735.8,421.8L738.3,421.7L740.7,421.6L743.2,421.6L745.7,421.5L748.2,421.4L750.7,421.4L753.2,421.3L755.7,421.2L758.2,421.2L760.7,421.1L763.2,421.0L765.7,420.9L768.1,420.9L770.6,420.8L773.1,420.7L775.6,420.6L778.1,420.6L780.6,420.5L783.1,420.4L785.6,420.3L788.1,420.2L790.6,420.2L793.1,420.1L795.6,420.0L798.1,419.9L800.6,419.8L803.1,419.7L805.6,419.6L808.1,419.5L810.6,419.4L813.1,419.3" stroke="#00aaaa"/>
<path d="M84.6,91.7L86.7,93.4L88.7,95.0L90.7,96.6L92.6,98.3L94.5,99.9L96.4,101.5L98.3,103.2L100.2,104.8L102.1,106.5L104.0,108.2L105.8,109.9L107.6,111.6L109.5,113.3L111.3,115.0L113.1,116.8L114.9,118.5L116.6,120.3L118.4,122.1L120.1,123.9L121.9,125.7L123.6,127.5L125.3,129.3L127.0,131.1L128.7,132.9L130.4,134.8L132.0,136.7L133.7,138.5L135.3,140.4L136.9,142.3L138.6,144.2L140.2,146.1L141.8,148.0L143.3,149.9L144.9,151.9L146.5,153.8L148.0,155.7L149.5,157.7L151.1,159.7L152.6,161.7L154.1,163.6L155.6,165.6L157.0,167.6L158.5,169.7L159.9,171.7L161.4,173.7L162.8,175.7L164.2,177.8L165.7,179.8L167.1,181.9L168.4,184.0L169.8,186.0L171.2,188.1L172.5,190.2L173.9,192.3L175.2,194.4L176.5,196.5L177.9,198.6L179.2,200.8L180.5,202.9L181.7,205.0L183.0,207.2L184.3,209.3L185.5,211.5L186.8,213.6L188.0,215.8L189.2,218.0L190.4,220.2L191.6,222.4L192.8,224.6L194.0,226.7L195.2,229.0L196.4,231.2L197.5,233.4L198.7,235.6L199.8,237.8L200.9,240.1L202.0,242.3L203.1,244.5L204.2,246.8L205.3,249.0L206.4,251.3L207.5,253.5L208.5,255.8L209.6,258.1L210.6,260.3L211.7,262.6L212.7,264.9L213.7,267.2L214.7,269.5L215.7,271.8L216.7,274.1L217.7,276.4L218.7,278.7L219.6,281.0L220.6,283.3L221.6,285.6L222.5,287.9L223.5,290.2L224.4,292.5L225.3,294.9L226.3,297.2L227.2,299.5L228.1,301.9L229.0,304.2L229.9,306.5L230.8,308.9L231.7,311.2L232.5,313.5L233.4,315.9L234.3,318.2L235.2,320.6L236.0,322.9L236.9,325.3L237.7,327.6L238.6,330.0L239.4,332.4L240.3,334.7L241.1,337.1L241.9,339.4L242.8,341.8L243.6,344.2L244.4,346.5L245.2,348.9L246.0,351.2L246.9,353.6L247.7,356.0L248.5,358.3L249.3,360.7L250.1,363.1L250.9,365.4L251.7,367.8L252.5,370.2L253.3,372.5L254.0,374.9L254.8,377.3L255.6,379.6L256.4,382.0L257.2,384.4L258.0,386.7L258.8,389.1L259.5,391.4L260.3,393.8L261.1,396.2L261.9,398.5L262.7,400.9L263.4,403.2L264.2,405.6L265.0,407.9L265.8,410.3L266.6,412.6L267.3,415.0L268.1,417.3L268.9,419.6L269.7,422.0L270.5,424.3L271.3,426.7L272.0,429.0L272.8,431.3L273.6,433.7L274.4,436.0L275.2,438.3L276.0,440.7L276.8,443.0L277.7,445.4L278.5,447.7L279.3,450.1L280.1,452.5L281.0,454.9L281.8,457.3L282.7,459.7L283.6,462.1L284.4,464.5L285.3,467.0L286.2,469.5L287.1,472.0L288.1,474.4L289.0,476.9L290.0,479.3L291.1,481.7L292.3,483.9L293.6,486.0L294.9,488.0L296.4,489.8L298.1,491.5L299.9,492.9L301.8,494.0L303.9,494.9L306.2,495.5L308.4,495.8L310.7,495.8L313.0,495.5L315.3,494.9L317.6,494.0L319.9,493.0L322.1,491.8L324.4,490.6L326.6,489.3L328.9,487.9L331.1,486.6L333.3,485.3L335.5,484.0L337.8,482.7L340.0,481.5L342.2,480.2L344.4,479.0L346.6,477.9L348.8,476.7L351.0,475.6L353.3,474.4L355.5,473.3L357.7,472.2L360.0,471.1L362.2,470.1L364.5,469.0L366.7,468.0L369.0,466.9L371.3,465.9L373.6,464.9L375.9,464.0L378.2,463.0L380.5,462.1L382.9,461.2L385.2,460.3L387.6,459.4L389.9,458.6L392.3,457.8L394.6,457.0L397.0,456.2L399.4,455.5L401.8,454.8L404.1,454.1L406.5,453.4L408.9,452.8L411.3,452.1L413.7,451.4L416.1,450.7L418.5,450.1L420.9,449.4L423.4,448.7L425.8,447.9L428.2,447.2L430.6,446.4L433.0,445.7L435.5,444.9L437.9,444.1L440.3,443.4L442.7,442.7L445.2,442.0L447.6,441.3L450.0,440.7L452.5,440.1L454.9,439.5L457.3,439.0L459.8,438.6L462.2,438.2L464.7,437.8L467.1,437.5L469.6,437.1L472.0,436.8L474.4,436.5L476.9,436.2L479.4,435.9L481.8,435.6L484.3,435.3L486.7,435.0L489.2,434.7L491.6,434.4L494.1,434.1L496.6,433.8L499.0,433.5L501.5,433.2L503.9,432.9L506.4,432.6L508.9,432.3L511.4,432.0L513.8,431.7L516.3,431.4L518.8,431.1L521.2,430.8L523.7,430.5L526.2,430.2L528.7,429.9L531.2,429.6L533.6,429.4L536.1,429.1L538.6,428.9L541.1,428.7L543.6,428.5L546.0,428.3L548.5,428.1L551.0,428.0L553.5,427.8L556.0,427.7L558.5,427.5L561.0,427.4L563.5,427.3L566.0,427.2L568.4,427.2L570.9,427.1L573.4,427.0L575.9,427.0L578.4,426.9L580.9,426.9L583.4,426.8L585.9,426.8L588.4,426.8L590.9,426.8L593.4,426.8L595.9,426.7L598.4,426.7L600.9,426.7L603.4,426.8L605.9,426.8L608.4,426.8L610.9,426.8L613.4,426.8L615.9,426.8L618.4,426.8L620.9,426.9L623.4,426.9L625.9,426.9L628.4,426.9L630.9,426.9L633.4,426.9L635.9,427.0L638.4,427.0L640.9,427.0L643.4,427.0L646.0,427.0L648.5,427.0L651.0,427.0L653.5,427.0L656.0,427.0L658.5,427.0L661.0,426.9L663.5,426.9L666.0,426.9L668.5,426.9L671.0,426.9L673.5,426.9L676.0,426.8L678.5,426.8L681.0,426.8L683.5,426.8L686.0,426.7L688.5,426.7L691.0,426.6L693.5,426.6L696.1,426.6L698.6,426.5L701.1,426.5L703.6,426.4L706.1,426.4L708.6,426.3L711.1,426.3L713.6,426.2L716.1,426.2L718.6,426.1L721.1,426.0L723.6,426.0L726.1,425.9L728.6,425.8L731.1,425.8L733.6,425.7L736.1,425.6L738.5,425.5L741.0,425.5L743.5,425.4L746.0,425.3L748.5,425.2L751.0,425.1L753.5,425.0L756.0,424.9L758.5,424.8L761.0,424.7L763.5,424.6L766.0,424.5L768.4,424.3L770.9,424.2L773.4,424.1L775.9,423.9L778.4,423.8L780.9,423.6L783.3,423.5L785.8,423.3L788.3,423.1L790.8,422.9L793.3,422.7L795.7,422.5L798.2,422.3L800.7,422.0L803.2,421.8L805.6,421.5L808.1,421.3L810.6,421.0L813.0,420.7" stroke="#000000"/>
</g>
<g stroke="#000" fill="none">
<line x1="85" y1="3" x2="85" y2="571.5" stroke-width="2"/>
<line x1="70" y1="560.1" x2="827.6" y2="560.1" stroke-width="2"/>
<path d="M94.50,559.5V556M113.90,559.5V556M133.30,559.5V552.4M152.70,559.5V556M172.10,559.5V556M191.50,559.5V556M210.90,559.5V556M230.30,559.5V552.4M249.70,559.5V556M269.10,559.5V556M288.50,559.5V556M307.90,559.5V556M327.30,559.5V552.4M346.70,559.5V556M366.10,559.5V556M385.50,559.5V556M404.90,559.5V556M424.30,559.5V552.4M443.70,559.5V556M463.10,559.5V556M482.50,559.5V556M501.90,559.5V556M521.30,559.5V552.4M540.70,559.5V556M560.10,559.5V556M579.50,559.5V556M598.90,559.5V556M618.30,559.5V552.4M637.70,559.5V556M657.10,559.5V556M676.50,559.5V556M695.90,559.5V556M715.30,559.5V552.4M734.70,559.5V556M754.10,559.5V556M773.50,559.5V556M792.90,559.5V556M812.30,559.5V552.4" stroke-width="1.9"/>
<path d="M85.5,26.10H92.9M85.5,88.31H88.9M85.5,72.64H88.9M85.5,61.52H88.9M85.5,52.89H88.9M85.5,45.84H88.9M85.5,39.89H88.9M85.5,34.72H88.9M85.5,30.17H88.9M85.5,115.10H92.9M85.5,177.31H88.9M85.5,161.64H88.9M85.5,150.52H88.9M85.5,141.89H88.9M85.5,134.84H88.9M85.5,128.89H88.9M85.5,123.72H88.9M85.5,119.17H88.9M85.5,204.10H92.9M85.5,266.31H88.9M85.5,250.64H88.9M85.5,239.52H88.9M85.5,230.89H88.9M85.5,223.84H88.9M85.5,217.89H88.9M85.5,212.72H88.9M85.5,208.17H88.9M85.5,293.10H92.9M85.5,355.31H88.9M85.5,339.64H88.9M85.5,328.52H88.9M85.5,319.89H88.9M85.5,312.84H88.9M85.5,306.89H88.9M85.5,301.72H88.9M85.5,297.17H88.9M85.5,382.10H92.9M85.5,444.31H88.9M85.5,428.64H88.9M85.5,417.52H88.9M85.5,408.89H88.9M85.5,401.84H88.9M85.5,395.89H88.9M85.5,390.72H88.9M85.5,386.17H88.9M85.5,471.10H92.9M85.5,533.31H88.9M85.5,517.64H88.9M85.5,506.52H88.9M85.5,497.89H88.9M85.5,490.84H88.9M85.5,484.89H88.9M85.5,479.72H88.9M85.5,475.17H88.9" stroke-width="1.9"/>
</g>
<g stroke-width="1.7" fill="none">
<line x1="680.5" y1="44.10" x2="757.5" y2="44.10" stroke="#0000ff"/>
<line x1="680.5" y1="81.45" x2="757.5" y2="81.45" stroke="#ff0000"/>
<line x1="680.5" y1="118.80" x2="757.5" y2="118.80" stroke="#00aa00"/>
<line x1="680.5" y1="156.15" x2="757.5" y2="156.15" stroke="#800080"/>
<line x1="680.5" y1="193.50" x2="757.5" y2="193.50" stroke="#ff8000"/>
<line x1="680.5" y1="230.85" x2="757.5" y2="230.85" stroke="#0000aa"/>
<line x1="680.5" y1="268.20" x2="757.5" y2="268.20" stroke="#00aaaa"/>
<line x1="680.5" y1="305.55" x2="757.5" y2="305.55" stroke="#000000"/>
</g>
<g fill="none" stroke="#000" stroke-linecap="round" stroke-linejoin="round">
<path d="M2.9,252.8Q16,242 29.5,252.8" stroke-width="1.25" stroke="#111"/>
<path d="M2.9,285.3Q16,295.3 29.5,285.3" stroke-width="1.25" stroke="#111"/>
<path d="M-1,269.8L23.2,276.3" stroke-width="2.3"/>
<path d="M10.8,272.6C8.5,268.4 7.5,264.3 9.5,262.3C11.5,260.6 14,261.8 23.2,265" stroke-width="2.3"/>
<path d="M24.2,349.8C19,344.5 11,340 4.6,337.7Q14,335.9 23.4,337.4" stroke-width="1.15" stroke-linejoin="miter"/>
<path d="M23.4,337.4L4.7,320.3" stroke-width="1.7"/>
<path d="M4.7,320.3Q12,324.6 23.7,325.5" stroke-width="1.15"/>
</g>
<g fill="none" stroke="#000" stroke-linecap="butt" stroke-linejoin="round">
<path d="M369.6,594.2L365.4,606.6Q364.6,610.9 368.6,610.7Q371.5,610.7 374.4,610" stroke-width="1.9"/><path d="M363.3,599.6H375.4" stroke-width="1.7"/>
<path d="M412.0,594.2L407.8,606.6Q407.0,610.9 411.0,610.7Q413.9,610.7 416.8,610" stroke-width="1.9"/><path d="M405.7,599.6H417.8" stroke-width="1.7"/>
<path d="M375.8,605.8H379.7V613.6" stroke-width="2" stroke-linejoin="miter"/>
<path d="M378.7,602.4H380.7" stroke-width="2.2"/>
<path d="M387.8,604.4H398.4" stroke-width="0.9" stroke="#333"/>
<path d="M473.9,594.7H470V613.9H473.9" stroke-width="1" stroke="#666" stroke-linejoin="miter"/>
<path d="M499.4,594.7H503.4V613.9H499.4" stroke-width="1" stroke="#666" stroke-linejoin="miter"/>
<path d="M480.7,610.4L485.2,593.9L487.2,605L495,593.9L491.3,610.4" stroke-width="1.4" stroke-linejoin="miter"/>
</g>
</svg>
<div class="t xl" style="left:93.30px">−20</div>
<div class="t xl" style="left:190.30px">−10</div>
<div class="t xl" style="left:287.30px">0</div>
<div class="t xl" style="left:384.30px">10</div>
<div class="t xl" style="left:481.30px">20</div>
<div class="t xl" style="left:578.30px">30</div>
<div class="t xl" style="left:675.30px">40</div>
<div class="t xl" style="left:772.30px">50</div>
<div class="t yl" style="top:14.40px;left:48.6px">10</div>
<div class="t ys" style="top:9.80px;left:72.5px">0</div>
<div class="t yl" style="top:103.40px;left:39.5px">10</div>
<div class="t ys" style="top:98.80px;left:64.3px">−1</div>
<div class="t yl" style="top:192.40px;left:39.5px">10</div>
<div class="t ys" style="top:187.80px;left:64.3px">−2</div>
<div class="t yl" style="top:281.40px;left:39.5px">10</div>
<div class="t ys" style="top:276.80px;left:64.3px">−3</div>
<div class="t yl" style="top:370.40px;left:39.5px">10</div>
<div class="t ys" style="top:365.80px;left:64.3px">−4</div>
<div class="t yl" style="top:459.40px;left:39.5px">10</div>
<div class="t ys" style="top:454.80px;left:64.3px">−5</div>
<div class="t lg" style="top:28.60px"><i>N</i> <span class="eq">=</span> 0</div>
<div class="t lg" style="top:65.95px"><i>N</i> <span class="eq">=</span> 1</div>
<div class="t lg" style="top:103.30px"><i>N</i> <span class="eq">=</span> 2</div>
<div class="t lg" style="top:140.65px"><i>N</i> <span class="eq">=</span> 3</div>
<div class="t lg" style="top:178.00px"><i>N</i> <span class="eq">=</span> 4</div>
<div class="t lg" style="top:215.35px"><i>N</i> <span class="eq">=</span> 5</div>
<div class="t lg" style="top:252.70px"><i>N</i> <span class="eq">=</span> 6</div>
<div class="t lg" style="top:290.05px"><i>N</i> <span class="eq">=</span> 7</div>
<div class="t" style="left:417.4px;top:596.8px;font-size:18px;letter-spacing:1.45px;transform:none;-webkit-text-stroke:0">peak</div>
</body></html>
